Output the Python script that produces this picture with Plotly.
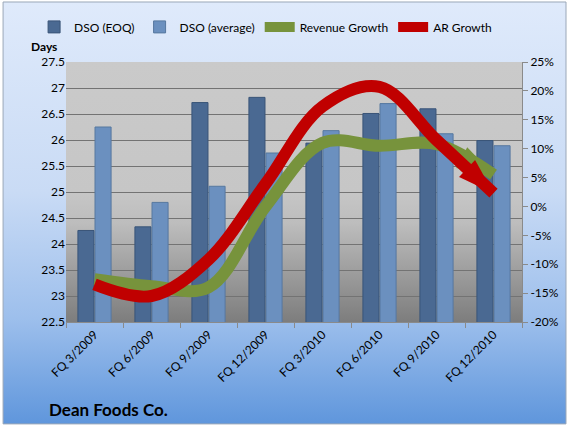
import base64
import plotly.graph_objects as go

# quarter labels and values
quarters = ["FQ 3/2009", "FQ 6/2009", "FQ 9/2009", "FQ 12/2009",
            "FQ 3/2010", "FQ 6/2010", "FQ 9/2010", "FQ 12/2010"]
dso_eoq = [24.26, 24.33, 26.72, 26.82, 25.94, 26.51, 26.60, 25.99]
dso_avg = [26.25, 24.80, 25.11, 25.75, 26.18, 26.70, 26.12, 25.89]
revenue_growth = [-12.6, -13.8, -14.0, 0.0, 11.0, 10.5, 10.8, 5.5]
ar_growth = [-13.5, -15.5, -9.2, 3.9, 17.3, 20.7, 11.5, 2.3]

left_ticks = [22.5, 23, 23.5, 24, 24.5, 25, 25.5, 26, 26.5, 27, 27.5]
right_ticks = [-20, -15, -10, -5, 0, 5, 10, 15, 20, 25]


def gradient_uri(stops):
    """vertical linear gradient as an svg data uri"""
    st = "".join('<stop offset="%s" stop-color="%s"/>' % (o, c) for o, c in stops)
    svg = ('<svg xmlns="http://www.w3.org/2000/svg" width="100" height="100" preserveAspectRatio="none">'
           '<defs><linearGradient id="g" x1="0" y1="0" x2="0" y2="1">%s</linearGradient></defs>'
           '<rect width="100" height="100" fill="url(#g)"/></svg>') % st
    return "data:image/svg+xml;base64," + base64.b64encode(svg.encode()).decode()


page_bg = gradient_uri([(0, "#dfeafb"), (0.45, "#c9dbf5"), (0.75, "#9dbfec"), (1, "#5f96dc")])
plot_bg = gradient_uri([(0, "#cacaca"), (0.5, "#c6c6c6"), (0.62, "#bdbdbd"), (1, "#7d7d7d")])

arrow_sizes = [0] * (len(quarters) - 1) + [38]

fig = go.Figure()

fig.add_trace(go.Bar(
    x=quarters, y=dso_eoq, name="DSO (EOQ)",
    marker=dict(color="#4a6992", line=dict(color="#3a5578", width=1)),
))
fig.add_trace(go.Bar(
    x=quarters, y=dso_avg, name="DSO (average)",
    marker=dict(color="#6b90bf", line=dict(color="#56789f", width=1)),
))
fig.add_trace(go.Scatter(
    x=quarters, y=revenue_growth, name="Revenue Growth", yaxis="y2",
    mode="lines+markers",
    line=dict(color="#77933c", width=12, shape="spline", smoothing=1.0),
    marker=dict(symbol="arrow", size=arrow_sizes, angleref="previous", color="#77933c",
                opacity=1, line=dict(width=0)),
))
fig.add_trace(go.Scatter(
    x=quarters, y=ar_growth, name="AR Growth", yaxis="y2",
    mode="lines+markers",
    line=dict(color="#c00000", width=12, shape="spline", smoothing=1.0),
    marker=dict(symbol="arrow", size=arrow_sizes, angleref="previous", color="#c00000",
                opacity=1, line=dict(width=0)),
))

fig.update_layout(
    width=575, height=427,
    margin=dict(l=66, r=53, t=62, b=105, autoexpand=False),
    paper_bgcolor="rgba(0,0,0,0)",
    plot_bgcolor="rgba(0,0,0,0)",
    font=dict(family="Lato, Open Sans, sans-serif", size=12, color="#000000"),
    barmode="group", bargap=0.4, bargroupgap=0.06,
    showlegend=True,
    legend=dict(orientation="h", x=-0.07, y=1.135, xanchor="left", yanchor="middle",
                bgcolor="rgba(0,0,0,0)", font=dict(size=12), itemwidth=30,
                tracegroupgap=0),
    # fixed range so the arrow markers don't pad the category axis
    xaxis=dict(type="category", range=[-0.5, len(quarters) - 0.5],
               tickangle=-45, tickson="boundaries",
               ticks="outside", ticklen=5, tickcolor="#8a8a8a",
               showline=True, linecolor="#8a8a8a", showgrid=False),
    yaxis=dict(range=[22.5, 27.5], tickvals=left_ticks,
               ticktext=[("%g" % v) for v in left_ticks],
               showgrid=True, gridcolor="#737373", gridwidth=1,
               zeroline=False, showline=False, ticks=""),
    yaxis2=dict(range=[-20, 25], overlaying="y", side="right",
                tickvals=right_ticks, ticktext=["%d%%" % v for v in right_ticks],
                showgrid=False, zeroline=False, showline=True, linecolor="#8a8a8a",
                ticks="outside", ticklen=5, tickcolor="#8a8a8a"),
    images=[
        dict(source=page_bg, xref="paper", yref="paper", x=-0.138, y=1.2308,
             sizex=1.2346, sizey=1.623, sizing="stretch", layer="below",
             xanchor="left", yanchor="top"),
        dict(source=plot_bg, xref="paper", yref="paper", x=0, y=1,
             sizex=1, sizey=1, sizing="stretch", layer="below",
             xanchor="left", yanchor="top"),
    ],
    shapes=[
        dict(type="rect", xref="paper", yref="paper", x0=-0.138, x1=1.0965,
             y0=-0.392, y1=1.2308, line=dict(color="#9aa7b8", width=1), layer="below"),
    ],
    annotations=[
        dict(text="<b>Days</b>", xref="paper", yref="paper", x=-0.081, y=1.058,
             xanchor="left", yanchor="middle", showarrow=False, font=dict(size=12)),
        dict(text="<b>Dean Foods Co.</b>", xref="paper", yref="paper", x=-0.0417, y=-0.338,
             xanchor="left", yanchor="middle", showarrow=False, font=dict(size=17)),
    ],
)

# drop the default page margin so the figure sits at the window's corner
fig.write_html("out.html", config={"displayModeBar": False},
               post_script="document.body.style.margin='0';")
